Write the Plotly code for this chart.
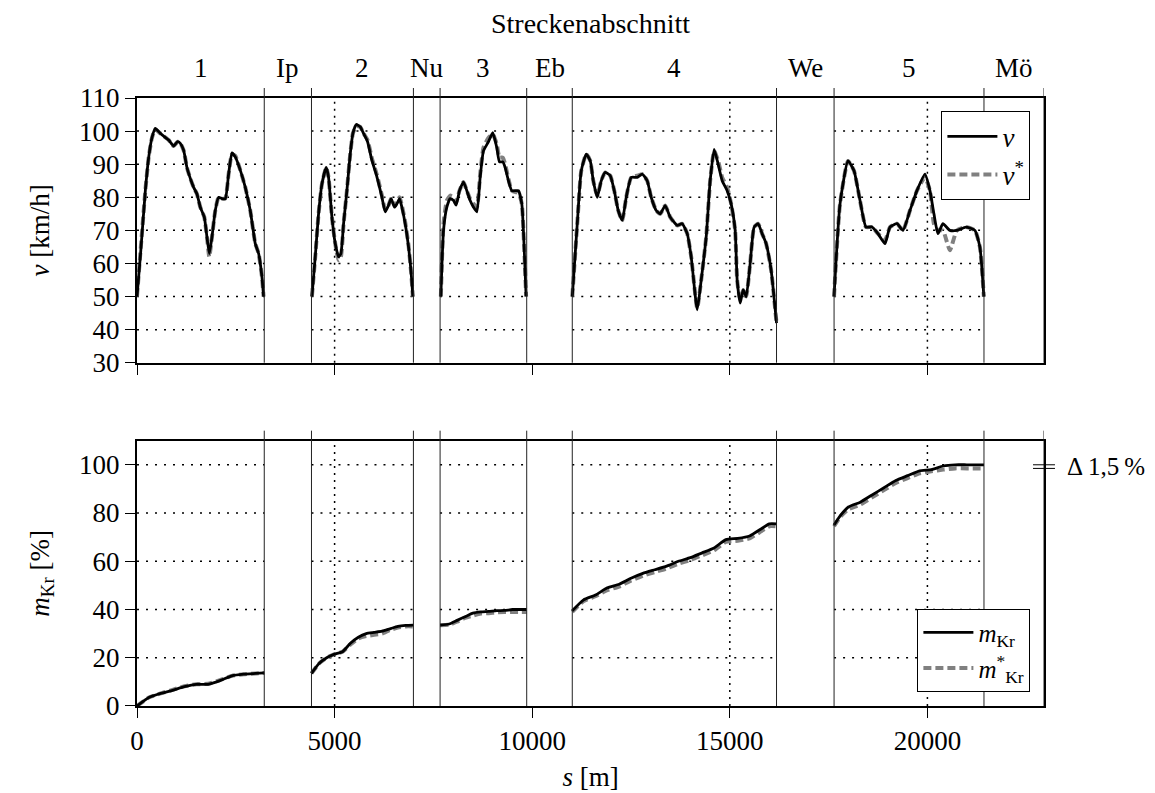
import plotly.graph_objects as go

# ---------------- data ----------------
XMAX = 22950
section_bounds = [3220, 4415, 6994, 7669, 9861, 11014, 16182, 17638, 21431]
section_spans = [(0, 3220), (4415, 6994), (7669, 9861), (11014, 16182), (17638, 21431)]
section_labels = ["1", "Ip", "2", "Nu", "3", "Eb", "4", "We", "5", "Mö"]
x_ticks = [0, 5000, 10000, 15000, 20000]
x_tick_text = ["0", "5000", "10000", "15000", "20000"]

# speed v (km/h), per section
v1_s = [0, 84, 211, 295, 379, 464, 590, 674, 801, 927, 1028, 1096, 1180, 1264, 1349, 1433, 1517, 1602, 1703, 1770, 1829, 1897, 1981, 2065, 2150, 2234, 2318, 2403, 2487, 2613, 2740, 2866, 2993, 3077, 3161, 3203]
v1 = [50, 62, 82, 92, 98, 100.8, 99.3, 98.5, 97.3, 95.5, 96.8, 96.3, 94.2, 89, 85.7, 83, 81, 77, 74, 68, 63, 68, 76, 80, 79.6, 79.6, 87, 93.4, 92.2, 88.2, 83, 76, 66, 63, 56, 50]
v1_star = [50, 63, 82, 92, 98, 100.5, 99.3, 98.5, 97.3, 95.5, 96.8, 96.3, 94.2, 89, 85.7, 83, 81, 77, 74, 68, 62, 68, 76, 80, 79.6, 79.6, 87, 93, 92.5, 88.2, 83, 76, 66, 63, 56, 50]

v2_s = [4426, 4510, 4594, 4679, 4788, 4847, 4932, 5016, 5100, 5159, 5227, 5311, 5395, 5463, 5547, 5648, 5732, 5834, 5943, 6070, 6196, 6280, 6365, 6432, 6516, 6575, 6643, 6702, 6786, 6870, 6938, 6980]
v2 = [50, 62, 75, 84, 89, 86, 74, 66, 62, 63, 72, 82, 93, 99.3, 102, 101.3, 99.3, 96.8, 91.2, 86.2, 80.1, 75.6, 77.6, 79.6, 77, 78, 79.6, 77, 72, 65, 57, 50]
v2_star = [50, 62, 75, 84, 89, 86, 74, 66, 61, 62, 72, 82, 93, 99.3, 101.5, 101.3, 99.3, 97.3, 91.8, 86.8, 80.6, 76.2, 77.6, 79.6, 77.5, 78.5, 80, 77.5, 72.5, 65.5, 57, 50]

v3_s = [7688, 7756, 7840, 7924, 8009, 8076, 8160, 8261, 8346, 8430, 8514, 8599, 8683, 8767, 8894, 9003, 9104, 9172, 9256, 9315, 9399, 9484, 9593, 9652, 9737, 9796, 9846]
v3 = [50, 70, 77, 79.6, 79, 77.6, 82, 84.6, 82, 79, 77, 75.6, 86, 94, 96.8, 99.5, 95, 90.7, 90.7, 89, 85, 82, 82, 82, 78, 65, 50]
v3_star = [50, 72, 79, 80.5, 80, 78.5, 82, 84.6, 82, 79.5, 78, 77, 87, 95, 98, 99, 96, 92, 92, 90, 85.5, 82, 81.5, 81.5, 78, 65, 50]

v4_s = [11014, 11140, 11241, 11368, 11469, 11545, 11646, 11747, 11848, 11975, 12076, 12177, 12278, 12379, 12506, 12657, 12784, 12910, 13011, 13138, 13239, 13365, 13492, 13669, 13795, 13922, 14023, 14175, 14276, 14402, 14503, 14604, 14705, 14807, 14933, 15034, 15135, 15186, 15262, 15338, 15414, 15515, 15616, 15717, 15818, 15919, 16045, 16182]
v4 = [50, 72, 88, 93, 91, 85, 80, 85, 87.5, 86.5, 82, 76, 73, 80, 86, 86, 87, 85, 80, 76, 75, 77.5, 74, 71.5, 72, 69, 62, 46, 55, 68, 85, 94.5, 90, 85, 82, 78, 70, 55, 48, 52, 50, 60, 71, 72, 69, 66, 58, 42]
v4_star = [50, 72, 88, 93, 91, 85, 80.5, 85, 87.5, 86.5, 82, 76, 73, 80, 86, 86.5, 87, 85, 80, 76, 75, 77.5, 74, 71.5, 72, 69, 62, 46.5, 55, 68, 85, 94, 91, 86, 83, 78, 70, 55, 49, 52, 50, 60, 71, 72, 69, 66, 58, 42]

v5_s = [17637, 17789, 17991, 18143, 18295, 18446, 18598, 18750, 18927, 19053, 19230, 19381, 19558, 19735, 19938, 20064, 20165, 20266, 20392, 20569, 20746, 20974, 21201, 21327, 21428]
v5 = [50, 78, 91, 88, 79, 71, 71, 69, 66, 71, 72, 70, 76, 82, 87, 82, 75, 69, 72, 70, 70, 71, 70, 65, 50]
v5_star = [50, 78, 91, 88, 79, 71, 71, 69, 67, 71, 72, 70, 76, 82, 86, 82, 72, 70, 70, 64, 70, 71, 70, 65, 50]

# cumulative fuel share m_Kr (%)
m1_s = [0, 300, 600, 900, 1200, 1500, 1800, 2100, 2400, 2700, 3000, 3220]
m1 = [0, 3.5, 5.2, 6.5, 8, 9, 9, 10.5, 12.5, 13.2, 13.5, 13.7]
m1_star = [0, 3.5, 5.2, 6.7, 8.2, 9, 9.2, 10.7, 12.5, 13.2, 13.5, 13.7]

m2_s = [4415, 4600, 4800, 5000, 5200, 5400, 5600, 5800, 6000, 6200, 6400, 6600, 6800, 6994]
m2 = [13.5, 17.5, 20, 21.5, 22.5, 26, 28.5, 30, 30.5, 31, 32, 33, 33.4, 33.5]
m2_star = [13.5, 17.5, 20, 21.5, 22.5, 25.5, 28, 29, 29.5, 30, 31.5, 32.5, 33, 33]

m3_s = [7669, 7900, 8100, 8300, 8500, 8700, 8900, 9100, 9300, 9500, 9700, 9861]
m3 = [33.5, 34, 35.5, 37, 38.5, 39, 39.2, 39.5, 39.6, 40, 40, 40]
m3_star = [33.5, 33.7, 35, 36.5, 37.5, 38.3, 38.5, 38.8, 39, 39, 39, 39]

m4_s = [11014, 11300, 11600, 11900, 12200, 12500, 12800, 13100, 13400, 13700, 14000, 14300, 14600, 14900, 15200, 15500, 15800, 16000, 16182]
m4 = [39.5, 44, 46, 49, 50.5, 53, 55, 56.5, 58, 60, 61.5, 63.5, 65.5, 69, 69.5, 70.5, 73.5, 75.5, 75.5]
m4_star = [39, 43.5, 45.5, 48, 49.5, 52, 54, 55.5, 57, 59, 60.5, 62.5, 64.5, 68, 68.5, 69.5, 72.5, 74.5, 74.5]

m5_s = [17638, 17800, 18000, 18300, 18600, 18900, 19200, 19500, 19800, 20100, 20400, 20700, 21000, 21431]
m5 = [75, 79, 82.5, 84.5, 87.5, 90.5, 93.5, 95.5, 97.5, 98, 99.5, 100, 100, 100]
m5_star = [74.5, 78.5, 81.5, 83.5, 86.5, 89.5, 92.5, 94.5, 96.5, 97.3, 98, 98.5, 98.5, 98.5]


def join(*parts):
    out = []
    for i, p in enumerate(parts):
        if i:
            out.append(None)
        out.extend(p)
    return out


FONT = "Liberation Serif"
FS = 27
BLACK = "black"
GREY = "rgb(128,128,128)"

fig = go.Figure()

v_s_all = join(v1_s, v2_s, v3_s, v4_s, v5_s)
m_s_all = join(m1_s, m2_s, m3_s, m4_s, m5_s)

fig.add_trace(go.Scatter(x=v_s_all, y=join(v1_star, v2_star, v3_star, v4_star, v5_star),
                         mode="lines", name="<i>v</i><sup>*</sup>", legendrank=2,
                         line=dict(color=GREY, width=4, dash="8px,4px", shape="spline", smoothing=0.5),
                         xaxis="x", yaxis="y", legend="legend"))
fig.add_trace(go.Scatter(x=v_s_all, y=join(v1, v2, v3, v4, v5),
                         mode="lines", name="<i>v</i>", legendrank=1,
                         line=dict(color=BLACK, width=2.8, shape="spline", smoothing=0.5),
                         xaxis="x", yaxis="y", legend="legend"))
fig.add_trace(go.Scatter(x=m_s_all, y=join(m1_star, m2_star, m3_star, m4_star, m5_star),
                         mode="lines", name="<i>m</i><sup>*</sup><sub>Kr</sub>", legendrank=2,
                         line=dict(color=GREY, width=4, dash="8px,4px", shape="spline", smoothing=0.5),
                         xaxis="x2", yaxis="y2", legend="legend2"))
fig.add_trace(go.Scatter(x=m_s_all, y=join(m1, m2, m3, m4, m5),
                         mode="lines", name="<i>m</i><sub>Kr</sub>", legendrank=1,
                         line=dict(color=BLACK, width=2.8, shape="spline", smoothing=0.5),
                         xaxis="x2", yaxis="y2", legend="legend2"))

shapes = []
# dotted horizontal grid only inside the sections
for (a, b) in section_spans:
    for yv in range(40, 101, 10):
        shapes.append(dict(type="line", xref="x", yref="y", x0=a, x1=b, y0=yv, y1=yv,
                           line=dict(color=BLACK, width=1.5, dash="2px,7px"), layer="below"))
    for yv in range(20, 101, 20):
        shapes.append(dict(type="line", xref="x2", yref="y2", x0=a, x1=b, y0=yv, y1=yv,
                           line=dict(color=BLACK, width=1.5, dash="2px,7px"), layer="below"))
# dotted vertical grid inside sections
for xv in [5000, 15000, 20000]:
    for xr, yr in [("x", "y domain"), ("x2", "y2 domain")]:
        shapes.append(dict(type="line", xref=xr, yref=yr, x0=xv, x1=xv, y0=0, y1=1,
                           line=dict(color=BLACK, width=1.5, dash="2px,5px"), layer="below"))
# section boundaries (extend above each panel as ticks)
for bnd in section_bounds + [XMAX]:
    for xr, yr in [("x", "y domain"), ("x2", "y2 domain")]:
        shapes.append(dict(type="line", xref=xr, yref=yr, x0=bnd, x1=bnd, y0=0, y1=1 + 10 / 265,
                           line=dict(color="#222", width=1), layer="above"))
# delta marker at right border
for yv in [100, 98.5]:
    shapes.append(dict(type="line", xref="paper", yref="y2", x0=0.9879, x1=1.0121, y0=yv, y1=yv,
                       line=dict(color=BLACK, width=1)))

annotations = []
edges = [0] + section_bounds + [XMAX]
for i, lab in enumerate(section_labels):
    c = (edges[i] + edges[i + 1]) / 2
    annotations.append(dict(text=lab, x=c, xref="x", y=1.049, yref="paper", showarrow=False,
                            xanchor="center", yanchor="middle", font=dict(size=FS, family=FONT)))
annotations.append(dict(text="Streckenabschnitt", x=0.5, xref="paper", y=1.123, yref="paper",
                        showarrow=False, xanchor="center", yanchor="middle",
                        font=dict(size=28, family=FONT)))
annotations.append(dict(text="Δ\u20091,5\u2009%", x=1.0235, xref="paper", y=99.25, yref="y2",
                        showarrow=False, xanchor="left", yanchor="middle",
                        font=dict(size=25, family=FONT)))

axis_common = dict(showline=True, mirror=True, linecolor=BLACK, linewidth=2,
                   ticks="outside", ticklen=10, tickcolor=BLACK, tickwidth=1,
                   showgrid=False, zeroline=False, automargin=False,
                   tickfont=dict(family=FONT, size=FS, color=BLACK))

fig.update_layout(
    width=1155, height=793,
    margin=dict(l=137, r=111, t=98, b=87),
    paper_bgcolor="white", plot_bgcolor="white",
    font=dict(family=FONT, size=FS, color=BLACK),
    shapes=shapes, annotations=annotations,
    xaxis=dict(domain=[0, 1], range=[0, XMAX], anchor="y", tickvals=x_ticks,
               showticklabels=False, **axis_common),
    yaxis=dict(domain=[0.5646, 1], range=[30, 110], tickvals=list(range(30, 111, 10)),
               title=dict(text="<i>v</i> [km/h]", standoff=22, font=dict(family=FONT, size=FS)),
               **axis_common),
    xaxis2=dict(domain=[0, 1], range=[0, XMAX], anchor="y2", tickvals=x_ticks, ticktext=x_tick_text,
                title=dict(text="<i>s</i> [m]", standoff=12, font=dict(family=FONT, size=FS)),
                **axis_common),
    yaxis2=dict(domain=[0, 0.4364], range=[0, 110], tickvals=list(range(0, 101, 20)),
                title=dict(text="<i>m</i><sub>Kr</sub> [%]", standoff=22, font=dict(family=FONT, size=FS)),
                **axis_common),
    legend=dict(x=0.985, xanchor="right", y=0.978, yanchor="top", bgcolor="white",
                bordercolor=BLACK, borderwidth=1, font=dict(size=FS, family=FONT),
                itemwidth=50, tracegroupgap=0),
    legend2=dict(x=0.985, xanchor="right", y=0.0235, yanchor="bottom", bgcolor="white",
                 bordercolor=BLACK, borderwidth=1, font=dict(size=25, family=FONT),
                 itemwidth=50, tracegroupgap=0),
    showlegend=True,
)

fig.write_html("out.html", config={"displayModeBar": False},
               post_script="document.body.style.margin='0';document.documentElement.style.overflow='hidden';")
